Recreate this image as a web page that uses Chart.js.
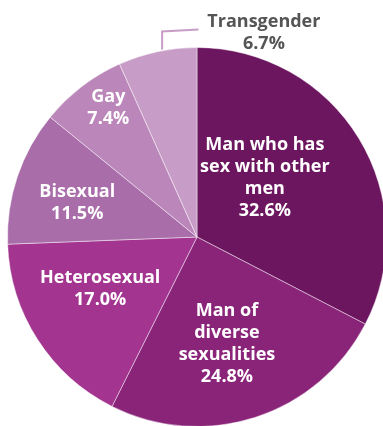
<!DOCTYPE html>
<html>
<head>
<meta charset="utf-8">
<script src="https://cdn.jsdelivr.net/npm/chart.js@4"></script>
<style>
  html, body { margin: 0; padding: 0; background: #fff; overflow: hidden; width: 383px; height: 426px; }
  #wrap { position: absolute; left: 0; top: 0; }
</style>
</head>
<body>
<div id="wrap"><canvas id="pie" width="394" height="474"></canvas></div>
<script>
const categories = [
    ['Man who has', 'sex with other', 'men'],
    ['Man of', 'diverse', 'sexualities'],
    ['Heterosexual'],
    ['Bisexual'],
    ['Gay'],
    ['Transgender']
];
const shares = [32.6, 24.8, 17.0, 11.5, 7.4, 6.7];
const sliceColors = ['#6d1660', '#8a2479', '#a3348f', '#a96daa', '#bb86b9', '#c79dc8'];

// label block centres, as fraction of the radius from the pie centre
const labelSpots = [[0.358, -0.311], [0.158, 0.566], [-0.511, 0.276], [-0.632, -0.179], [-0.468, -0.684], [0.353, -1.079]];

const sliceLabels = {
    id: 'sliceLabels',
    afterDraw(chart) {
        const ctx = chart.ctx;
        const arcs = chart.getDatasetMeta(0).data;
        const cx = arcs[0].x, cy = arcs[0].y, R = arcs[0].outerRadius;

        // leader line for the small outside label
        ctx.save();
        ctx.strokeStyle = '#c79dc8';
        ctx.lineWidth = 2;
        ctx.beginPath();
        ctx.moveTo(cx - 0.184 * R, cy - 0.99 * R);
        ctx.lineTo(cx - 0.184 * R, cy - 1.085 * R);
        ctx.lineTo(cx + 0.008 * R, cy - 1.095 * R);
        ctx.stroke();

        ctx.font = 'bold 18px "Open Sans"';
        ctx.textAlign = 'center';
        ctx.textBaseline = 'middle';
        const lineH = 22;
        categories.forEach((lines, i) => {
            const rows = lines.concat([shares[i].toFixed(1) + '%']);
            const x = cx + labelSpots[i][0] * R;
            const y = cy + labelSpots[i][1] * R;
            ctx.fillStyle = i === 5 ? '#555555' : '#ffffff';
            const top = y - (rows.length - 1) * lineH / 2;
            rows.forEach((t, k) => ctx.fillText(t, x, top + k * lineH));
        });
        ctx.restore();
    }
};

new Chart(document.getElementById('pie'), {
    type: 'pie',
    data: {
        labels: categories.map(l => l.join(' ')),
        datasets: [{
            data: shares,
            backgroundColor: sliceColors,
            borderColor: 'rgba(255,255,255,0.45)',
            borderWidth: 1
        }]
    },
    options: {
        responsive: false,
        animation: false,
        layout: { padding: { left: 7, right: 7, top: 47, bottom: 47 } },
        plugins: { legend: { display: false }, tooltip: { enabled: false } }
    },
    plugins: [sliceLabels]
});
</script>
</body>
</html>
